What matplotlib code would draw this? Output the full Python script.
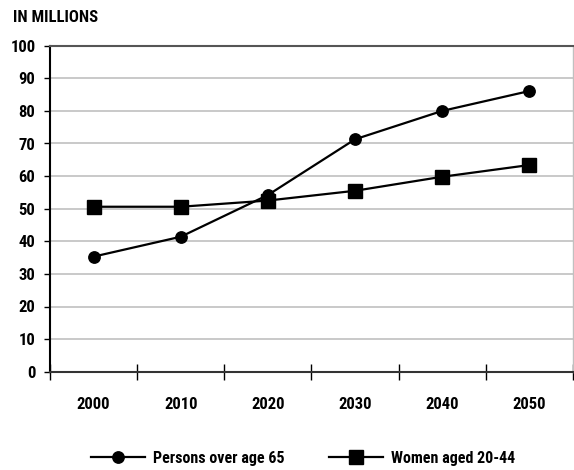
import matplotlib
matplotlib.use('Agg')
import matplotlib.pyplot as plt
from matplotlib import font_manager
import numpy as np

years = ['2000', '2010', '2020', '2030', '2040', '2050']
over_65 = [35.3, 41.4, 54.2, 71.3, 80.0, 86.1]
women_20_44 = [50.6, 50.6, 52.5, 55.5, 59.8, 63.4]
yticks = [0, 10, 20, 30, 40, 50, 60, 70, 80, 90, 100]

# pick a narrow face if one is around
names = set(f.name for f in font_manager.fontManager.ttflist)
narrow = [n for n in ['Liberation Sans Narrow', 'Roboto Condensed', 'Open Sans Condensed']
          if n in names]
plt.rcParams['font.family'] = narrow + ['DejaVu Sans']
plt.rcParams['font.stretch'] = 'condensed'
plt.rcParams['font.weight'] = 'bold'

fig = plt.figure(figsize=(5.74, 4.70), dpi=100)
ax = fig.add_axes([50/574, (470-371.7)/470, 523/574, 326/470])

x = np.arange(len(years))
l1, = ax.plot(x, over_65, '-o', color='black', lw=1.6, ms=8.2, label='Persons over age 65')
l2, = ax.plot(x, women_20_44, '-s', color='black', lw=1.6, ms=10, label='Women aged 20-44')

ax.set_xlim(-0.5, len(years) - 0.5)
ax.set_ylim(0, 100)
ax.set_yticks(yticks)
ax.set_yticklabels([str(v) for v in yticks], fontsize=12)

# gridlines, skipping the top one which is drawn as the spine
for v in yticks[1:-1]:
    ax.axhline(v, color='#c0c0c0', lw=1.2, zorder=0)

# category labels centred, tick marks on the boundaries
ax.set_xticks(x)
ax.set_xticklabels(years, fontsize=12)
ax.tick_params(axis='x', length=0, pad=18)
ax.set_xticks(np.arange(len(years) + 1) - 0.5, minor=True)
ax.tick_params(axis='x', which='minor', direction='inout', length=12, width=1, color='black')
ax.tick_params(axis='y', direction='out', length=4.5, width=1, pad=6)

ax.spines['left'].set_color('black')
ax.spines['left'].set_linewidth(1.5)
ax.spines['bottom'].set_color('#333333')
ax.spines['bottom'].set_linewidth(1.5)
ax.spines['top'].set_color('#555555')
ax.spines['top'].set_linewidth(1.5)
ax.spines['right'].set_color('#c0c0c0')
ax.spines['right'].set_linewidth(1)

fig.text(13/574, 1 - 18/470, 'IN MILLIONS', fontsize=12, va='center', ha='left')

fig.legend(handles=[l1, l2], loc='center', bbox_to_anchor=(303/574, 1 - 458/470),
           ncol=2, frameon=False, fontsize=11.5, handlelength=3.4, columnspacing=2.8,
           handletextpad=0.5)

fig.savefig('out.png', dpi=100)
